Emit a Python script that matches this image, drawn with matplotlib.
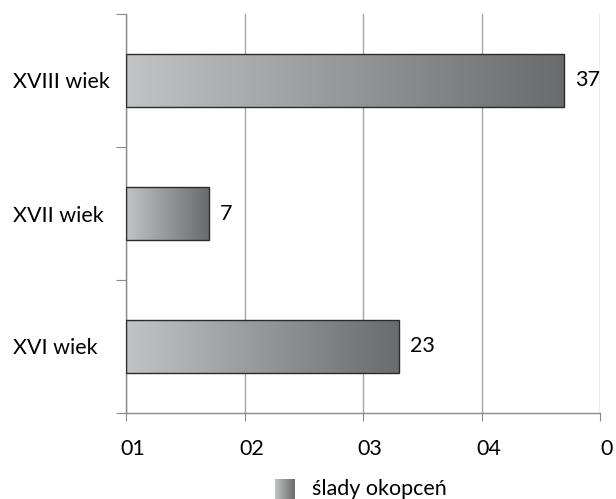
import numpy as np
import matplotlib
matplotlib.use('Agg')
import matplotlib.pyplot as plt
from matplotlib.transforms import ScaledTranslation
from matplotlib.colors import LinearSegmentedColormap

plt.rcParams['font.family'] = ['Lato', 'DejaVu Sans']

categories = ['XVI wiek', 'XVII wiek', 'XVIII wiek']
values = [23, 7, 37]
xtick_values = [0, 10, 20, 30, 40]
xtick_labels = ['01', '02', '03', '04', '0']
legend_label = 'ślady okopceń'

grad = LinearSegmentedColormap.from_list('g', ['#c2c3c5', '#6a6b6d'])
grad_img = np.linspace(0, 1, 256).reshape(1, -1)

fig = plt.figure(figsize=(6.16, 4.99), dpi=100)
ax = fig.add_axes([126/616, 1 - 413/499, 474/616, 399/499])

ypos = np.arange(len(categories))
bars = ax.barh(ypos, values, height=0.4, facecolor='none',
               edgecolor='#2b2b2b', linewidth=1.0, zorder=3)

# gradient fill for each bar, clipped to the bar
for b in bars:
    x0, y0 = b.get_x(), b.get_y()
    w, h = b.get_width(), b.get_height()
    im = ax.imshow(grad_img, cmap=grad, aspect='auto',
                   extent=[x0, x0 + w, y0, y0 + h], zorder=2)
    im.set_clip_path(b)

for y, v in zip(ypos, values):
    ax.annotate(str(v), (v, y), xytext=(8, 0), textcoords='offset points',
                va='center', ha='left', fontsize=15.5, color='#000000')

ax.set_xlim(0, 40)
ax.set_ylim(-0.5, 2.5)

ax.set_xticks(xtick_values)
ax.set_xticklabels(xtick_labels, fontsize=15.5, color='#000000')
ax.tick_params(axis='x', length=6, color='#8a8a8a', pad=13)
for lab in ax.get_xticklabels():
    lab.set_transform(lab.get_transform() + ScaledTranslation(7/100, 0, fig.dpi_scale_trans))

ax.set_yticks([-0.5, 0.5, 1.5, 2.5])
ax.set_yticklabels([])
ax.tick_params(axis='y', length=7, color='#8a8a8a')
ax.set_yticks(ypos, minor=True)
ax.set_yticklabels(categories, minor=True, fontsize=15.5, color='#000000', ha='left')
ax.tick_params(axis='y', which='minor', length=0, pad=113*0.72)

ax.grid(axis='x', color='#a6a6a6', linewidth=1.0, zorder=0)
ax.set_axisbelow(True)
for s in ['top', 'right']:
    ax.spines[s].set_visible(False)
for s in ['left', 'bottom']:
    ax.spines[s].set_color('#8a8a8a')
    ax.spines[s].set_linewidth(1.0)

# legend: small gradient square + text
lax = fig.add_axes([275/616, 1 - 499/499, 20/616, 20/499])
lax.imshow(grad_img, cmap=grad, aspect='auto')
lax.set_axis_off()
fig.text(312/616, 1 - 489/499, legend_label, fontsize=15.5, va='center', ha='left', color='#000000')

fig.savefig('out.png', dpi=100)
